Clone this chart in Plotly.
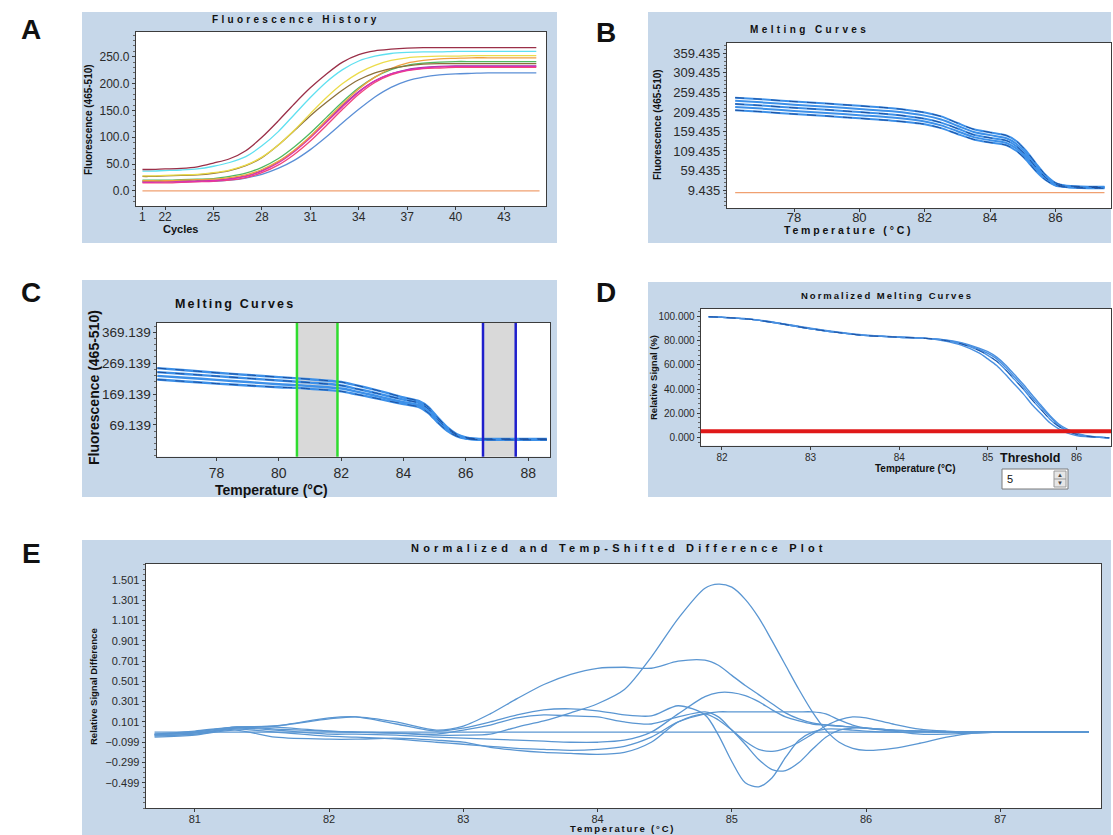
import plotly.graph_objects as go

W, H = 1113, 835
FONT = "Liberation Sans, Arial, sans-serif"

# ---------------- Panel A : Fluorescence History ----------------
cycles = [20.6] + list(range(21, 46))
a_xticks = [20.6, 22, 25, 28, 31, 34, 37, 40, 43]
a_xticklabels = ["1", "22", "25", "28", "31", "34", "37", "40", "43"]
a_yticks = [0, 50, 100, 150, 200, 250]
a_maroon = [40, 40, 41, 42, 45, 52, 60, 75, 100, 130, 162, 192, 218, 240, 254, 261, 264, 266, 267, 267, 267, 267, 267, 267, 267, 267]
a_cyan = [37, 37, 38, 39, 41, 46, 53, 64, 84, 110, 142, 174, 203, 226, 242, 251, 256, 258, 259, 259, 260, 260, 260, 260, 260, 260]
a_yellow = [28, 28, 29, 30, 31, 34, 39, 48, 63, 85, 113, 144, 174, 200, 220, 234, 243, 248, 250, 251, 251, 252, 252, 252, 252, 252]
a_olive = [27, 27, 28, 29, 30, 33, 38, 47, 62, 85, 112, 140, 165, 188, 207, 220, 228, 233, 236, 237, 237, 237, 237, 237, 237, 237]
a_orange = [19, 19, 19, 20, 21, 22, 25, 30, 40, 55, 76, 102, 132, 162, 190, 212, 228, 238, 243, 246, 247, 248, 248, 248, 248, 248]
a_green = [20, 20, 20, 21, 22, 23, 27, 33, 44, 60, 82, 108, 137, 166, 192, 212, 226, 234, 238, 240, 241, 241, 241, 241, 241, 241]
a_magenta = [16, 16, 17, 17, 18, 19, 22, 27, 37, 52, 73, 99, 128, 157, 184, 205, 218, 225, 229, 231, 232, 232, 232, 232, 232, 232]
a_pink = [15, 15, 15, 16, 17, 18, 20, 25, 34, 48, 68, 93, 122, 152, 180, 202, 216, 224, 228, 229, 230, 230, 230, 230, 230, 230]
a_purple = [18, 18, 18, 19, 19, 20, 23, 28, 38, 54, 75, 101, 130, 159, 185, 205, 218, 226, 230, 232, 233, 233, 233, 233, 233, 233]
a_blue = [17, 17, 17, 17, 18, 18, 20, 24, 31, 42, 57, 77, 101, 127, 152, 175, 193, 205, 212, 216, 218, 219, 220, 220, 220, 220]
a_base_x = [20.6, 45.2]
a_base_y = [0, 0]

# ---------------- Panel B : Melting Curves ----------------
b_temp = [76.2, 77, 78, 79, 80, 81, 82, 82.5, 83, 83.5, 84, 84.5, 84.8, 85.1, 85.4, 85.7, 86, 86.3, 86.6, 87, 87.5]
b_l1 = [246, 242, 236, 231, 225, 219, 208, 198, 181, 165, 157, 149, 135, 110, 78, 48, 28, 21, 19, 18, 18]
b_l2 = [238, 234, 228, 223, 217, 211, 200, 190, 174, 158, 150, 142, 128, 104, 73, 45, 26, 20, 18, 17, 17]
b_l3 = [230, 226, 220, 215, 209, 203, 192, 182, 167, 151, 143, 136, 122, 98, 68, 41, 24, 19, 17, 16, 16]
b_l4 = [222, 218, 212, 207, 201, 195, 185, 175, 160, 145, 137, 130, 116, 92, 63, 38, 22, 18, 16, 15, 15]
b_l5 = [214, 210, 204, 199, 193, 187, 178, 168, 153, 139, 131, 124, 110, 87, 58, 35, 21, 17, 15, 14, 14]
b_base_x = [76.2, 87.5]
b_base_y = [3, 3]
b_xticks = [78, 80, 82, 84, 86]
b_yticks = [9.435, 59.435, 109.435, 159.435, 209.435, 259.435, 309.435, 359.435]

# ---------------- Panel C : Melting Curves with regions ----------------
c_temp = [76.1, 77, 78, 79, 80, 80.6, 81, 82, 82.5, 83, 83.5, 84, 84.5, 84.8, 85.1, 85.4, 85.7, 86, 86.3, 86.6, 87, 88, 88.6]
c_l1 = [253, 246, 238, 231, 224, 220, 217, 208, 197, 185, 172, 158, 146, 127, 93, 62, 40, 29, 25, 24, 24, 24, 24]
c_l2 = [240, 234, 227, 220, 213, 209, 206, 197, 186, 175, 163, 151, 140, 121, 87, 58, 37, 27, 24, 23, 23, 23, 23]
c_l3 = [228, 222, 215, 208, 201, 198, 195, 187, 177, 166, 154, 143, 133, 114, 82, 54, 35, 26, 23, 22, 22, 22, 22]
c_l4 = [216, 210, 203, 197, 191, 189, 186, 178, 168, 158, 147, 137, 127, 108, 77, 50, 33, 25, 22, 21, 21, 21, 21]
c_green_bounds = [80.58, 81.88]
c_blue_bounds = [86.55, 87.6]
c_xticks = [78, 80, 82, 84, 86, 88]
c_yticks = [69.139, 169.139, 269.139, 369.139]

# ---------------- Panel D : Normalized Melting Curves ----------------
d_temp = [81.85, 82.0, 82.3, 82.6, 83.0, 83.3, 83.6, 84.0, 84.3, 84.5, 84.7, 84.9, 85.0, 85.1, 85.2, 85.3, 85.4, 85.5, 85.6, 85.7, 85.8, 85.9, 86.0, 86.1, 86.2, 86.37]
d_a = [100, 99.5, 98, 95, 90, 87, 84.5, 83, 82, 80.0, 76.5, 70, 65, 59.5, 52, 44, 36, 27, 19.5, 12, 7, 3.5, 1.5, 0.5, 0.1, -0.5]
d_b = [100, 99.5, 98, 95, 90, 87, 84.5, 83, 82, 80.5, 77.5, 72, 68, 63, 56, 48, 40, 31, 23, 15, 9, 5, 2.5, 1, 0.3, -0.5]
d_c = [100, 99.5, 98, 95, 90, 87, 84.5, 83, 82, 81, 78.5, 74, 71, 66.5, 60, 52, 44, 35, 26.5, 18, 11, 6.5, 3.5, 1.5, 0.5, -0.5]
d_d = [100, 99.6, 98.2, 95.3, 90.4, 87.3, 84.8, 83.2, 82.2, 80.8, 78, 73, 69.5, 65, 58, 50, 42, 33, 25, 17, 10, 5.5, 2.8, 1.2, 0.4, -0.5]
d_threshold = 5
d_xticks = [82, 83, 84, 85, 86]
d_yticks = [0, 20, 40, 60, 80, 100]

# ---------------- Panel E : Difference plot ----------------
e_temp = [80.7, 81.0, 81.3, 81.6, 82.0, 82.2, 82.5, 82.8, 83.0, 83.2, 83.4, 83.6, 83.8, 84.0, 84.2, 84.4, 84.6, 84.8, 84.9,
          85.0, 85.1, 85.2, 85.3, 85.4, 85.5, 85.6, 85.7, 85.8, 85.9, 86.0, 86.2, 86.4, 86.6, 86.8, 87.0, 87.3, 87.66]
e_p = [-0.03, 0.00, 0.05, 0.05, 0.01, 0.00, -0.01, -0.03, -0.03, -0.02, 0.05, 0.11, 0.19, 0.28, 0.42, 0.74, 1.12, 1.42, 1.46,
       1.43, 1.31, 1.13, 0.90, 0.66, 0.42, 0.20, 0.02, -0.10, -0.16, -0.18, -0.16, -0.11, -0.05, -0.01, 0.00, 0.00, 0.00]
e_q = [-0.02, -0.01, 0.04, 0.06, 0.13, 0.15, 0.10, 0.02, 0.06, 0.18, 0.33, 0.47, 0.57, 0.63, 0.64, 0.63, 0.70, 0.71, 0.66,
       0.56, 0.46, 0.37, 0.28, 0.19, 0.13, 0.09, 0.07, 0.06, 0.05, 0.04, 0.02, 0.01, 0.00, 0.00, 0.00, 0.00, 0.00]
e_r = [-0.04, -0.02, 0.04, 0.02, -0.02, -0.02, -0.03, -0.05, -0.06, -0.07, -0.08, -0.09, -0.10, -0.10, -0.08, 0.00, 0.18, 0.35, 0.39,
       0.39, 0.36, 0.30, 0.22, 0.15, 0.11, 0.08, 0.07, 0.06, 0.05, 0.04, 0.02, 0.01, 0.00, 0.00, 0.00, 0.00, 0.00]
e_s = [-0.02, 0.00, 0.05, 0.06, 0.14, 0.15, 0.08, 0.01, 0.04, 0.10, 0.17, 0.22, 0.23, 0.21, 0.17, 0.16, 0.26, 0.17, -0.03,
       -0.29, -0.50, -0.54, -0.45, -0.25, -0.08, 0.00, 0.03, 0.03, 0.02, 0.01, 0.00, 0.00, 0.00, 0.00, 0.00, 0.00, 0.00]
e_t = [-0.02, 0.01, 0.05, 0.03, 0.01, 0.00, -0.01, -0.02, 0.02, 0.07, 0.14, 0.17, 0.16, 0.15, 0.10, 0.08, 0.15, 0.20, 0.15,
       0.02, -0.12, -0.27, -0.37, -0.38, -0.30, -0.17, -0.05, 0.02, 0.04, 0.04, 0.02, 0.01, 0.00, 0.00, 0.00, 0.00, 0.00]
e_u = [-0.05, -0.03, 0.02, -0.05, -0.07, -0.07, -0.06, -0.08, -0.10, -0.15, -0.18, -0.20, -0.21, -0.22, -0.20, -0.10, 0.10, 0.18, 0.12,
       0.02, -0.09, -0.17, -0.19, -0.16, -0.10, -0.02, 0.06, 0.12, 0.15, 0.14, 0.08, 0.03, 0.01, 0.00, 0.00, 0.00, 0.00]
e_v = [-0.03, -0.02, 0.03, 0.00, -0.04, -0.05, -0.07, -0.10, -0.12, -0.14, -0.16, -0.17, -0.18, -0.17, -0.14, -0.05, 0.10, 0.18, 0.20,
       0.20, 0.20, 0.20, 0.20, 0.20, 0.20, 0.20, 0.18, 0.12, 0.07, 0.04, 0.01, -0.02, -0.02, -0.01, 0.00, 0.00, 0.00]
e_base_x = [80.7, 87.66]
e_base_y = [0, 0]
e_xticks = [81, 82, 83, 84, 85, 86, 87]
e_yticks = [-0.499, -0.299, -0.099, 0.101, 0.301, 0.501, 0.701, 0.901, 1.101, 1.301, 1.501]

# ---------------- helpers ----------------
def pxx(x):
    return x / W


def pyy(y):
    return 1 - y / H


fig = go.Figure()


def line(x, y, ax, color, width=1.3, dash=None, shape="spline"):
    fig.add_trace(go.Scatter(
        x=x, y=y, mode="lines", xaxis="x" + ax, yaxis="y" + ax,
        line=dict(color=color, width=width, dash=dash, shape=shape, smoothing=0.8),
        showlegend=False, hoverinfo="skip"))


# Panel A traces
a_series = [
    (a_blue, "#5b8fd6"), (a_purple, "#8a3fae"), (a_pink, "#f0457a"), (a_magenta, "#e030b0"),
    (a_green, "#4fb860"), (a_orange, "#f0a040"), (a_olive, "#8c6f3a"), (a_yellow, "#ecdc4a"),
    (a_cyan, "#5fe0f0"), (a_maroon, "#9a2f48"),
]
for ys, col in a_series:
    line(cycles, ys, "", col, 1.3)
line(a_base_x, a_base_y, "", "#f0a070", 1.2, shape="linear")

# Panel B traces
for ys in [b_l1, b_l2, b_l3, b_l4, b_l5]:
    line(b_temp, ys, "2", "#3d90e8", 2.0)
for ys in [b_l1, b_l3, b_l5]:
    line(b_temp, ys, "2", "#1d4f9e", 1.0, dash="dash")
line(b_base_x, b_base_y, "2", "#f0a070", 1.3, shape="linear")

# Panel C traces
for ys in [c_l1, c_l2, c_l3, c_l4]:
    line(c_temp, ys, "3", "#3d90e8", 2.4)
for ys in [c_l1, c_l2, c_l4]:
    line(c_temp, ys, "3", "#1d4f9e", 1.0, dash="dash")

# Panel D traces
for ys in [d_a, d_b, d_c, d_d]:
    line(d_temp, ys, "4", "#4a90e0", 1.4)
line(d_temp, d_b, "4", "#1d4f9e", 1.0, dash="dash")

# Panel E traces
line(e_base_x, e_base_y, "5", "#5a96d2", 1.2, shape="linear")
for ys in [e_v, e_u, e_t, e_s, e_r, e_q, e_p]:
    line(e_temp, ys, "5", "#5a96d2", 1.3)


# ---------------- axes ----------------
def xax(x0, x1, rng, anchor, tickvals, ticktext=None, size=12, standoff=0):
    d = dict(domain=[pxx(x0), pxx(x1)], range=rng, anchor=anchor, showgrid=False, zeroline=False,
             showline=True, mirror=True, linecolor="#3c3c3c", linewidth=1.2, ticks="outside",
             ticklen=3, tickcolor="#3c3c3c", tickvals=tickvals, ticklabelstandoff=standoff,
             tickfont=dict(family=FONT, size=size, color="#2a2a2a"), fixedrange=True)
    if ticktext is not None:
        d["ticktext"] = ticktext
    return d


def yax(y0, y1, rng, anchor, tickvals, fmt, size=12, minor_dtick=None, minor_tick0=0, standoff=0):
    d = dict(domain=[pyy(y1), pyy(y0)], range=rng, anchor=anchor, showgrid=False, zeroline=False,
             showline=True, mirror=True, linecolor="#3c3c3c", linewidth=1.2, ticks="outside",
             ticklen=3, tickcolor="#3c3c3c", tickvals=tickvals, tickformat=fmt, ticklabelstandoff=standoff,
             tickfont=dict(family=FONT, size=size, color="#2a2a2a"), fixedrange=True)
    if minor_dtick:
        d["minor"] = dict(ticks="outside", ticklen=2, tickcolor="#666", dtick=minor_dtick,
                          tick0=minor_tick0, showgrid=False)
    return d


layout = dict(
    width=W, height=835, margin=dict(l=0, r=0, t=0, b=0),
    paper_bgcolor="white", plot_bgcolor="rgba(0,0,0,0)", showlegend=False,
    font=dict(family=FONT),
    xaxis=xax(136, 546, [20.2, 45.6], "y", a_xticks, a_xticklabels, 12, -4),
    yaxis=yax(32, 206, [-28, 296], "x", a_yticks, ".1f", 12, 10, 0),
    xaxis2=xax(727, 1111, [75.95, 87.7], "y2", b_xticks, None, 13, -6),
    yaxis2=yax(43, 208, [-36.6, 386], "x2", b_yticks, ".3f", 13, 10, 9.435),
    xaxis3=xax(156.7, 550, [76.08, 88.7], "y3", c_xticks, None, 14, 0),
    yaxis3=yax(323, 456.7, [-33.5, 399], "x3", c_yticks, ".3f", 13.5, 20, 69.139, -1),
    xaxis4=xax(700.7, 1111, [81.76, 86.39], "y4", d_xticks, None, 10, -1),
    yaxis4=yax(309, 445.7, [-7, 106.4], "x4", d_yticks, ".3f", 10, 4, 0),
    xaxis5=xax(145.7, 1101, [80.634, 87.75], "y5", e_xticks, None, 11, -3),
    yaxis5=yax(564, 808.3, [-0.752, 1.659], "x5", e_yticks, ".3f", 11, 0.05, 0.001),
)

BOX = "#c6d7e9"
shapes = []
for (x0, y0, x1, y1) in [(82, 12, 557, 243), (648, 12, 1111, 243), (82, 280, 557, 497),
                         (648, 282, 1111, 497), (82, 540, 1111, 835)]:
    shapes.append(dict(type="rect", xref="paper", yref="paper", x0=pxx(x0), x1=pxx(x1),
                       y0=pyy(y1), y1=pyy(y0), fillcolor=BOX, line=dict(width=0), layer="below"))
for ax in ["", "2", "3", "4", "5"]:
    shapes.append(dict(type="rect", xref="x" + ax + " domain", yref="y" + ax + " domain",
                       x0=0, x1=1, y0=0, y1=1, fillcolor="white", line=dict(width=0), layer="below"))
# grey regions in C
for bounds in [c_green_bounds, c_blue_bounds]:
    shapes.append(dict(type="rect", xref="x3", yref="y3 domain", x0=bounds[0], x1=bounds[1], y0=0, y1=1,
                       fillcolor="#d9d9d9", line=dict(width=0), layer="below"))
for xv in c_green_bounds:
    shapes.append(dict(type="line", xref="x3", yref="y3 domain", x0=xv, x1=xv, y0=0, y1=1,
                       line=dict(color="#2fdc2f", width=2.5)))
for xv in c_blue_bounds:
    shapes.append(dict(type="line", xref="x3", yref="y3 domain", x0=xv, x1=xv, y0=0, y1=1,
                       line=dict(color="#1f1fcc", width=2.5)))
# threshold line in D
shapes.append(dict(type="line", xref="x4 domain", yref="y4", x0=0, x1=1, y0=d_threshold, y1=d_threshold,
                   line=dict(color="#e01818", width=4)))
# threshold input box
shapes.append(dict(type="rect", xref="paper", yref="paper", x0=pxx(1002), x1=pxx(1068), y0=pyy(489), y1=pyy(469),
                   fillcolor="white", line=dict(color="#7a7a7a", width=1)))
shapes.append(dict(type="rect", xref="paper", yref="paper", x0=pxx(1054), x1=pxx(1066), y0=pyy(487), y1=pyy(471),
                   fillcolor="#e6e6e6", line=dict(color="#9a9a9a", width=1)))
shapes.append(dict(type="line", xref="paper", yref="paper", x0=pxx(1054), x1=pxx(1066), y0=pyy(479), y1=pyy(479),
                   line=dict(color="#9a9a9a", width=1)))
layout["shapes"] = shapes


def ann(text, x, y, size, bold=True, angle=0, spacing=0, xanchor="center", yanchor="middle", color="#111"):
    t = text
    if spacing:
        t = '<span style="letter-spacing:%spx">%s</span>' % (spacing, t)
    if bold:
        t = "<b>" + t + "</b>"
    return dict(text=t, x=pxx(x), y=pyy(y), xref="paper", yref="paper", showarrow=False,
                font=dict(family=FONT, size=size, color=color), textangle=angle,
                xanchor=xanchor, yanchor=yanchor)


annotations = [
    # panel letters
    ann("A", 31, 30, 28), ann("B", 606, 32, 28), ann("C", 31, 292, 28),
    ann("D", 606, 292, 28), ann("E", 31, 553, 28),
    # Panel A
    ann("Fluorescence History", 296, 19, 10, spacing=3.3),
    ann("Cycles", 180, 229, 11),
    ann("Fluorescence (465-510)", 88, 120, 10, angle=-90),
    # Panel B
    ann("Melting Curves", 809, 30, 10, spacing=3.4),
    ann("Temperature (°C)", 848, 230, 10.5, spacing=2.8),
    ann("Fluorescence (465-510)", 658, 125, 10, angle=-90),
    # Panel C
    ann("Melting Curves", 235, 304, 12.5, spacing=2.2),
    ann("Temperature (°C)", 271, 490, 14),
    ann("Fluorescence (465-510)", 94, 388, 14, angle=-90),
    # Panel D
    ann("Normalized Melting Curves", 887, 295, 9.5, spacing=2.0),
    ann("Temperature (°C)", 915, 468, 10),
    ann("Relative Signal (%)", 653, 378, 9.5, angle=-90),
    ann("Threshold", 1030, 458, 12.5),
    ann("5", 1005, 479, 11, bold=False, xanchor="left"),
    ann("▲", 1060, 475.5, 6, bold=False, color="#444"),
    ann("▼", 1060, 483, 6, bold=False, color="#444"),
    # Panel E
    ann("Normalized and Temp-Shifted Difference Plot", 619, 548, 11, spacing=4.2),
    ann("Temperature (°C)", 622, 828, 9.5, spacing=1.8),
    ann("Relative Signal Difference", 93, 687, 9.5, angle=-90),
]
layout["annotations"] = annotations

fig.update_layout(**layout)
fig.write_html("out.html", config={"displayModeBar": False},
               post_script="document.body.style.margin='0px';document.body.style.overflow='hidden';")
